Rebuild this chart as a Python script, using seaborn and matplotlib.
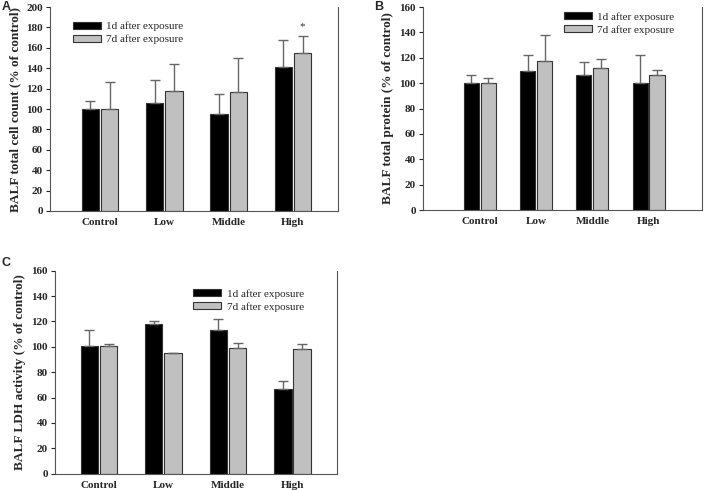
import numpy as np
import pandas as pd
import matplotlib
matplotlib.use("Agg")
import matplotlib.pyplot as plt
import seaborn as sns

## Values (% of control)
groups = ["Control", "Low", "Middle", "High"]
series = ["1d after exposure", "7d after exposure"]

cell_1d = [100, 105.5, 95, 141.5]
cell_1d_err = [8, 22.5, 20, 26.5]
cell_7d = [100, 117.5, 117, 155]
cell_7d_err = [26, 26.5, 33, 17]

prot_1d = [100, 109.6, 106.7, 100.4]
prot_1d_err = [6.7, 12.8, 10, 22]
prot_7d = [100, 117.7, 112.2, 106.4]
prot_7d_err = [4, 20.3, 7.1, 4.2]

ldh_1d = [100.5, 118, 113.5, 66.5]
ldh_1d_err = [12.5, 2.3, 8.5, 6.3]
ldh_7d = [100.5, 95, 98.8, 98]
ldh_7d_err = [2, 0.4, 4.2, 4]

sns.set_style("white")
plt.rcParams["font.family"] = ["Liberation Serif", "DejaVu Serif"]

palette = ["#000000", "#c0c0c0"]


def panel(ax, v1, e1, v7, e7, ymax, ylabel, xlim, legend_xy):
    df = pd.DataFrame({
        "group": groups * 2,
        "series": [series[0]] * 4 + [series[1]] * 4,
        "value": v1 + v7,
    })
    sns.barplot(data=df, x="group", y="value", hue="series", order=groups,
                hue_order=series, palette=palette, width=0.6, gap=0.1,
                errorbar=None, edgecolor="#333333", linewidth=0.8,
                saturation=1, ax=ax)
    # upper-only error bars, placed on the bars seaborn drew
    for cont, errs in zip(ax.containers, [e1, e7]):
        xs = [p.get_x() + p.get_width() / 2 for p in cont.patches]
        ys = [p.get_height() for p in cont.patches]
        ax.errorbar(xs, ys, yerr=[np.zeros(len(errs)), errs], fmt="none",
                    ecolor="#666666", elinewidth=1.0, capsize=3.5,
                    capthick=1.0, zorder=1)
    ax.set_ylim(0, ymax)
    ax.set_yticks(np.arange(0, ymax + 1, 20))
    ax.set_xlim(*xlim)
    ax.set_xlabel("")
    ax.set_ylabel(ylabel, fontsize=9.5, fontweight="bold", labelpad=4)
    ax.tick_params(axis="y", direction="out", length=3, width=0.8,
                   left=True, labelsize=8, pad=2)
    ax.tick_params(axis="x", length=0, labelsize=8, pad=5)
    for lab in ax.get_xticklabels() + ax.get_yticklabels():
        lab.set_fontweight("bold")
    ax.spines["top"].set_visible(False)
    for s in ["left", "bottom", "right"]:
        ax.spines[s].set_color("#555555")
        ax.spines[s].set_linewidth(0.8)
    ax.legend(loc="upper left", bbox_to_anchor=legend_xy, frameon=False,
              fontsize=8, borderpad=0, borderaxespad=0,
              handlelength=2.5, handleheight=0.6, labelspacing=0.3,
              handletextpad=0.5)


fig = plt.figure(figsize=(7.08, 4.90), dpi=100)
axA = fig.add_axes([0.0706, 0.5694, 0.4068, 0.4163])
axB = fig.add_axes([0.5975, 0.5714, 0.3940, 0.4143])
axC = fig.add_axes([0.0777, 0.0333, 0.3983, 0.4143])

panel(axA, cell_1d, cell_1d_err, cell_7d, cell_7d_err, 200,
      "BALF total cell count (% of control)", (-0.78, 3.70),
      (0.08, 0.93))
panel(axB, prot_1d, prot_1d_err, prot_7d, prot_7d_err, 160,
      "BALF total protein (% of control)", (-1.01, 3.95),
      (0.505, 0.975))
panel(axC, ldh_1d, ldh_1d_err, ldh_7d, ldh_7d_err, 160,
      "BALF LDH activity (% of control)", (-0.68, 3.69),
      (0.49, 0.91))

# significance mark above High / 7d
hb = axA.containers[1].patches[3]
axA.text(hb.get_x() + hb.get_width() / 2, cell_7d[3] + cell_7d_err[3] + 4,
         "*", ha="center", va="bottom", fontsize=8, color="#333333")

for lab, x, y in [("A", 0.002, 0.997), ("B", 0.528, 0.997),
                  ("C", 0.002, 0.475)]:
    fig.text(x, y, lab, ha="left", va="top", fontsize=9, fontweight="bold",
             family=["Liberation Sans", "DejaVu Sans"])

fig.savefig("out.png", dpi=100)
